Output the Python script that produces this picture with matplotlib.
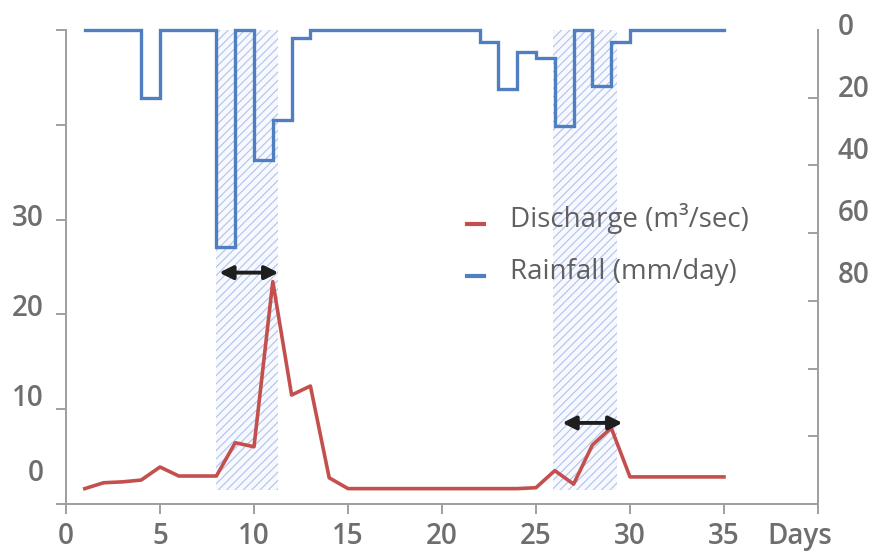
import numpy as np
import matplotlib
matplotlib.use("Agg")
import matplotlib.pyplot as plt
import matplotlib.transforms as mtransforms
from matplotlib.lines import Line2D
from matplotlib.legend_handler import HandlerLine2D

# ---------------- data ----------------
days = list(range(1, 36))
discharge = [-0.4, 0.25, 0.35, 0.55, 2.0, 1.0, 1.0, 1.0, 4.7, 4.25,
             22.6, 10.0, 11.0, 0.8, -0.4, -0.4, -0.4, -0.4, -0.4, -0.4,
             -0.4, -0.4, -0.4, -0.4, -0.3, 1.6, 0.1, 4.45, 6.35, 0.9,
             0.9, 0.9, 0.9, 0.9, 0.9]
rainfall = [0, 0, 0, 22, 0, 0, 0, 70, 0, 42,
            29, 2.5, 0, 0, 0, 0, 0, 0, 0, 0,
            0, 4, 19, 7, 9, 31, 0, 18, 4, 0,
            0, 0, 0, 0, 0]
x_ticks = [0, 5, 10, 15, 20, 25, 30, 35, 40]
x_tick_labels = ["0", "5", "10", "15", "20", "25", "30", "35", "Days"]
q_ticks = [0, 10, 20, 30]
r_ticks = [0, 20, 40, 60, 80]
event_start = [8.0, 25.9]
event_end = [11.3, 29.3]
lag_start = [8.15, 26.4]
lag_end = [11.3, 29.6]
lag_level = [23.6, 6.9]
series_names = ["Discharge (m³/sec)", "Rainfall (mm/day)"]

# ---------------- style ----------------
RED = "#C4504E"
BLUE = "#4F7FC0"
AXC = "#A0A0A0"
TXT = "#6E6E6E"
FONT = ["Open Sans", "DejaVu Sans"]
plt.rcParams["font.family"] = FONT
plt.rcParams["hatch.linewidth"] = 0.8

W, H, DPI = 879, 554, 100
fig = plt.figure(figsize=(W / DPI, H / DPI), dpi=DPI)
L, R, T, B = 66, 818, 30, 504
ax = fig.add_axes([L / W, (H - B) / H, (R - L) / W, (B - T) / H])
ax2 = ax.twinx()

q_lo, q_hi = -2.11, 50.56
r_lo, r_hi = 0, 152.9
ax.set_xlim(0, 40)
ax.set_ylim(q_lo, q_hi)
ax2.set_ylim(r_hi, r_lo)

# event shading (behind the rainfall line)
for s, e in zip(event_start, event_end):
    ax2.axvspan(s, e, ymin=0.03, ymax=1.0, facecolor="#F7F9FE",
                edgecolor="#AFC3EC", hatch="////", linewidth=0, zorder=0)

# lines
ax2.step(days, rainfall, where="post", color=BLUE, lw=2.4, clip_on=False,
         solid_joinstyle="miter", zorder=3)
ax.plot(days, discharge, color=RED, lw=2.6, zorder=4)

# lag arrows
for s, e, lv in zip(lag_start, lag_end, lag_level):
    ax.annotate("", xy=(e, lv), xytext=(s, lv),
                arrowprops=dict(arrowstyle="<|-|>", color="#1E1E1E", lw=2.8,
                                mutation_scale=20, shrinkA=0, shrinkB=0),
                zorder=6)

ax.set_zorder(ax2.get_zorder() + 1)
ax.patch.set_visible(False)

# spines
for a in (ax, ax2):
    a.spines["top"].set_visible(False)
    for sp in ("left", "right", "bottom"):
        a.spines[sp].set_color(AXC)
        a.spines[sp].set_linewidth(1.4)

TICKFONT = dict(labelsize=20, labelcolor=TXT)

# x ticks
ax.set_xticks(x_ticks)
ax.set_xticklabels(x_tick_labels)
ax.tick_params(axis="x", direction="out", length=7, width=1.4, color=AXC,
               pad=6, **TICKFONT)
xl = ax.get_xticklabels()
xl[-1].set_transform(xl[-1].get_transform() +
                     mtransforms.ScaledTranslation(-18 / DPI, 0, fig.dpi_scale_trans))

# left y ticks: marks (minor) and labels (major)
ax.set_yticks(q_ticks)
ax.set_yticklabels([str(v) for v in q_ticks])
ax.set_yticks(np.linspace(q_lo, q_hi, 6), minor=True)
ax.tick_params(axis="y", which="major", length=0, pad=16, **TICKFONT)
ax.tick_params(axis="y", which="minor", direction="out", length=7,
               width=1.4, color=AXC)
yl = ax.get_yticklabels()
yl[0].set_transform(yl[0].get_transform() +
                    mtransforms.ScaledTranslation(0, 15 / DPI, fig.dpi_scale_trans))

# right y ticks
ax2.set_yticks(r_ticks)
ax2.set_yticklabels([str(v) for v in r_ticks])
ax2.set_yticks(np.linspace(r_lo, r_hi, 8), minor=True)
ax2.tick_params(axis="y", which="major", length=0, pad=14, **TICKFONT)
ax2.tick_params(axis="y", which="minor", direction="in", length=7,
                width=1.4, color=AXC)
shift = mtransforms.ScaledTranslation(0, 6 / DPI, fig.dpi_scale_trans)
for lbl in ax2.get_yticklabels():
    lbl.set_transform(lbl.get_transform() + shift)

for lbl in ax.get_xticklabels() + ax.get_yticklabels() + ax2.get_yticklabels():
    lbl.set_fontweight("semibold")


# legend
class LowLine(HandlerLine2D):
    def create_artists(self, legend, orig_handle, xdescent, ydescent,
                       width, height, fontsize, trans):
        arts = super().create_artists(legend, orig_handle, xdescent, ydescent,
                                      width, height, fontsize, trans)
        off = mtransforms.Affine2D().translate(0, -0.35 * height)
        for a in arts:
            a.set_transform(off + trans)
        return arts


handles = [Line2D([], [], color=RED, lw=3), Line2D([], [], color=BLUE, lw=3)]
leg = fig.legend(handles, series_names, loc="upper left",
                 bbox_to_anchor=(467 / W, 1 - 203 / H), frameon=False,
                 borderpad=0, borderaxespad=0,
                 fontsize=20, labelcolor="#606060", handlelength=0.6,
                 handletextpad=0.95, labelspacing=0.85,
                 handler_map={Line2D: LowLine()})

fig.savefig("out.png", dpi=DPI, facecolor="white")
